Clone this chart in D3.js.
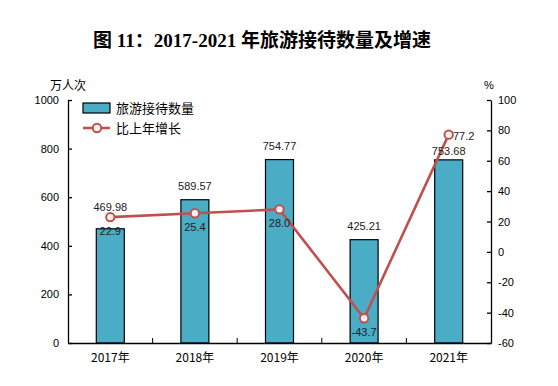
<!DOCTYPE html>
<html>
<head>
<meta charset="utf-8">
<script src="https://cdn.jsdelivr.net/npm/d3@7"></script>
<style>
  body { margin: 0; background: #fff; }
  svg text { fill: #000; }
</style>
</head>
<body>
<svg id="chart"></svg>
<script>
// data
const years = ["2017年", "2018年", "2019年", "2020年", "2021年"];
const visitors = [469.98, 589.57, 754.77, 425.21, 753.68];   // 万人次
const growth = [22.9, 25.4, 28.0, -43.7, 77.2];               // %
const leftTicks = [0, 200, 400, 600, 800, 1000];
const rightTicks = [-60, -40, -20, 0, 20, 40, 60, 80, 100];

const width = 558, height = 386;
const margin = { top: 100, right: 67, bottom: 43, left: 68 };
const numFont = "'Liberation Sans', Arial, sans-serif";
const cjkFont = "'Noto Sans CJK SC', sans-serif";

const svg = d3.select("#chart").attr("width", width).attr("height", height);

svg.append("text")
    .attr("x", 262).attr("y", 47)
    .attr("text-anchor", "middle")
    .style("font-family", "'Liberation Serif', 'Noto Sans CJK SC', serif")
    .style("font-weight", "bold")
    .style("font-size", "19px")
    .text("图 11：2017-2021 年旅游接待数量及增速");

let x = d3.scaleBand()
    .domain(years)
    .range([margin.left, width - margin.right]);

let yLeft = d3.scaleLinear()
    .domain([0, 1000])
    .range([height - margin.bottom, margin.top]);

let yRight = d3.scaleLinear()
    .domain([-60, 100])
    .range([height - margin.bottom, margin.top]);

// axes
let leftAxis = g => g
    .attr("transform", `translate(${margin.left},0)`)
    .call(d3.axisLeft(yLeft).tickValues(leftTicks).tickFormat(d => String(d))
        .tickSizeInner(-4).tickSizeOuter(0).tickPadding(9))
    .call(g => g.selectAll("text").style("font-family", numFont).style("font-size", "11px"));

let rightAxis = g => g
    .attr("transform", `translate(${width - margin.right},0)`)
    .call(d3.axisRight(yRight).tickValues(rightTicks).tickFormat(d => String(d))
        .tickSizeInner(-4).tickSizeOuter(0).tickPadding(7))
    .call(g => g.selectAll("text").style("font-family", numFont).style("font-size", "11px"));

let bottomAxis = g => g
    .attr("transform", `translate(0,${height - margin.bottom})`)
    .call(d3.axisBottom(x).tickSize(0).tickPadding(10))
    .call(g => g.selectAll("text").style("font-family", cjkFont).style("font-size", "12px"));

svg.append("g").call(leftAxis);
svg.append("g").call(rightAxis);

// category boundary ticks
svg.append("g")
    .selectAll("line")
    .data(years.slice(1))
    .join("line")
    .attr("x1", d => x(d)).attr("x2", d => x(d))
    .attr("y1", height - margin.bottom).attr("y2", height - margin.bottom - 5)
    .attr("stroke", "#000");

svg.selectAll(".domain, .tick line").attr("stroke", "#000").attr("stroke-width", 1.3);

// bars
const barW = 28;
svg.append("g")
    .selectAll("rect")
    .data(visitors)
    .join("rect")
    .attr("x", (d, i) => x(years[i]) + x.bandwidth() / 2 - barW / 2)
    .attr("y", d => yLeft(d))
    .attr("width", barW)
    .attr("height", d => yLeft(0) - yLeft(d))
    .attr("fill", "#4BACC6")
    .attr("stroke", "#000")
    .attr("stroke-width", 1.2);

svg.append("g").call(bottomAxis);
svg.selectAll(".domain").attr("stroke-width", 1.3);

// growth line
let cx = i => x(years[i]) + x.bandwidth() / 2;
let line = d3.line()
    .x((d, i) => cx(i))
    .y(d => yRight(d));

svg.append("path")
    .datum(growth)
    .attr("d", line)
    .attr("fill", "none")
    .attr("stroke", "#C0504D")
    .attr("stroke-width", 2.6);

svg.append("g")
    .selectAll("circle")
    .data(growth)
    .join("circle")
    .attr("cx", (d, i) => cx(i))
    .attr("cy", d => yRight(d))
    .attr("r", 4.2)
    .attr("fill", "#f7f0f0")
    .attr("stroke", "#C0504D")
    .attr("stroke-width", 2);

// label placement (baselines)
// value label sits above its bar, or above the marker when they collide;
// growth label sits below its marker, or up-right of it when it would hit the value label
let barLabelY = [], pctLabel = [];
visitors.forEach((d, i) => {
    let my = yRight(growth[i]);
    let by = yLeft(d) - 10;
    if (Math.abs(by - 4 - my) < 10) by = my - 6;
    let px = cx(i), py = my + 18;
    if (Math.abs(py - by) < 10) { px = cx(i) + 15; py = my + 5; by = yLeft(d) - 5; }
    barLabelY.push(by);
    pctLabel.push([px, py]);
});

svg.append("g")
    .selectAll("text")
    .data(visitors)
    .join("text")
    .attr("x", (d, i) => cx(i))
    .attr("y", (d, i) => barLabelY[i])
    .attr("text-anchor", "middle")
    .style("font-family", numFont)
    .style("font-size", "11px")
    .style("fill", "#222")
    .text(d => d.toFixed(2));

svg.append("g")
    .selectAll("text")
    .data(growth)
    .join("text")
    .attr("x", (d, i) => pctLabel[i][0])
    .attr("y", (d, i) => pctLabel[i][1])
    .attr("text-anchor", "middle")
    .style("font-family", numFont)
    .style("font-size", "11px")
    .style("fill", "#222")
    .text(d => d.toFixed(1));

// unit labels
svg.append("text")
    .attr("x", 68).attr("y", 90)
    .attr("text-anchor", "middle")
    .style("font-family", cjkFont).style("font-size", "12px")
    .text("万人次");

svg.append("text")
    .attr("x", 489).attr("y", 89)
    .attr("text-anchor", "middle")
    .style("font-family", numFont).style("font-size", "11px")
    .text("%");

// legend
let legend = svg.append("g").style("font-family", cjkFont).style("font-size", "13px");
legend.append("rect")
    .attr("x", 83).attr("y", 103).attr("width", 27).attr("height", 10)
    .attr("fill", "#4BACC6").attr("stroke", "#000").attr("stroke-width", 1.2);
legend.append("text").attr("x", 116).attr("y", 113).text("旅游接待数量");
legend.append("line")
    .attr("x1", 83).attr("x2", 110).attr("y1", 128).attr("y2", 128)
    .attr("stroke", "#C0504D").attr("stroke-width", 2.6);
legend.append("circle")
    .attr("cx", 97).attr("cy", 128).attr("r", 4.2)
    .attr("fill", "#f7f0f0").attr("stroke", "#C0504D").attr("stroke-width", 2);
legend.append("text").attr("x", 116).attr("y", 133).text("比上年增长");
</script>
</body>
</html>
